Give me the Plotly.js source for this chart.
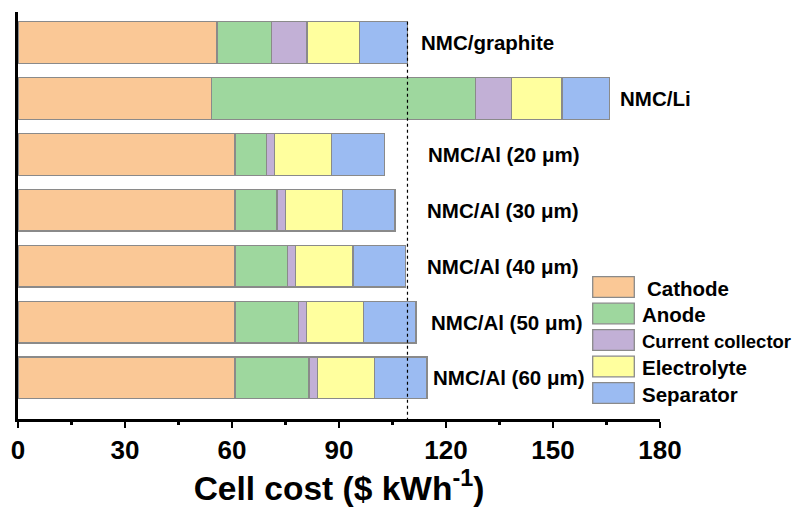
<!DOCTYPE html>
<html>
<head>
<meta charset="utf-8">
<script src="https://cdn.plot.ly/plotly-3.0.1.min.js"></script>
<style>
  html, body { margin: 0; padding: 0; background: #fff; }
  #chart { width: 797px; height: 513px; }
</style>
</head>
<body>
<div id="chart"></div>
<script>
// Cell configurations (top to bottom)
const categories = [
  'NMC/graphite',
  'NMC/Li',
  'NMC/Al (20 μm)',
  'NMC/Al (30 μm)',
  'NMC/Al (40 μm)',
  'NMC/Al (50 μm)',
  'NMC/Al (60 μm)'
];

// Cost breakdown per component, $ kWh-1
const cathode          = [55.8, 54.3, 60.8, 60.8, 60.8, 60.8, 60.8];
const anode            = [15.2, 74.0,  8.9, 11.8, 14.8, 17.8, 20.8];
const currentCollector = [10.0, 10.0,  2.3,  2.4,  2.3,  2.3,  2.3];
const electrolyte      = [14.8, 14.2, 15.9, 15.9, 16.0, 15.9, 16.0];
const separator        = [13.4, 13.3, 14.8, 14.8, 14.8, 14.8, 14.8];

const componentNames = ['Cathode', 'Anode', 'Current collector', 'Electrolyte', 'Separator'];
const componentColors = ['#FAC896', '#9ED79E', '#C2B0D6', '#FFFF9E', '#9BBBF2'];

const xTickVals = [0, 30, 60, 90, 120, 150, 180];

// Pixel geometry of the plotting area
const W = 797, H = 513;
const M = { l: 18, r: 137, t: 12, b: 94 };
const plotW = W - M.l - M.r, plotH = H - M.t - M.b;
const px2x = px => (px - M.l) / plotW;           // paper x
const py2y = py => 1 - (py - M.t) / plotH;       // paper y

const series = [cathode, anode, currentCollector, electrolyte, separator];
const barWidth = 0.745;

const traces = series.map((vals, i) => ({
  type: 'bar',
  orientation: 'h',
  name: componentNames[i],
  y: categories,
  x: vals,
  width: barWidth,
  marker: { color: componentColors[i], line: { color: '#8a8a8a', width: 1.3 } },
  hoverinfo: 'x+name',
  showlegend: false
}));

// Total of the reference (graphite) cell, marked with a dotted line
const graphiteTotal = series.reduce((s, arr) => s + arr[0], 0);

// Label positions to the right of each bar (data x)
const labelX = [112.3, 168.3, 114.5, 114.0, 114.0, 115.1, 115.9];

const annotations = categories.map((c, i) => ({
  xref: 'x', yref: 'y', x: labelX[i], y: c,
  text: '<b>' + c + '</b>',
  showarrow: false, xanchor: 'left', yanchor: 'middle',
  font: { family: 'Liberation Sans, Arial, sans-serif', size: 20.5, color: '#000' }
}));

// Hand-built legend with large swatches
const shapes = [];
const legendTop = 276.7, legendStep = 26.5, swH = 20.6;
const legendTextX = [645, 640, 640, 640, 640];
const legendFont = [20.5, 20.5, 18.5, 20.5, 20.5];
componentNames.forEach((n, i) => {
  const top = legendTop + i * legendStep;
  shapes.push({
    type: 'rect', xref: 'paper', yref: 'paper', layer: 'above',
    x0: px2x(592.7), x1: px2x(634.3), y0: py2y(top + swH), y1: py2y(top),
    fillcolor: componentColors[i], line: { color: '#8a8a8a', width: 1.3 }
  });
  annotations.push({
    xref: 'paper', yref: 'paper', x: px2x(legendTextX[i]), y: py2y(top + swH / 2 + 1),
    text: '<b>' + n + '</b>', showarrow: false, xanchor: 'left', yanchor: 'middle',
    font: { family: 'Liberation Sans, Arial, sans-serif', size: legendFont[i], color: '#000' }
  });
});

shapes.push({
  type: 'line', xref: 'x', yref: 'y', layer: 'above',
  x0: graphiteTotal, x1: graphiteTotal, y0: -barWidth / 2, y1: 6.734,
  line: { color: '#000', width: 1.2, dash: 'dot' }
});

const layout = {
  width: W, height: H,
  margin: M,
  paper_bgcolor: '#fff', plot_bgcolor: '#fff',
  barmode: 'stack',
  bargap: 0.25,
  showlegend: false,
  font: { family: 'Liberation Sans, Arial, sans-serif', color: '#000' },
  xaxis: {
    range: [0, 180],
    tickvals: xTickVals,
    ticktext: xTickVals.map(String),
    ticks: 'outside', ticklen: 6, tickwidth: 2.2, tickcolor: '#000',
    minor: { dtick: 15, ticks: 'outside', ticklen: 3.5, tickwidth: 2.2, tickcolor: '#000' },
    showline: true, linecolor: '#000', linewidth: 2.5,
    showgrid: false, zeroline: false,
    tickfont: { family: 'Liberation Sans, Arial, sans-serif', size: 26, weight: 'bold', color: '#000' },
    title: {
      text: '<b>Cell cost ($ kWh<sup>-1</sup>)</b>',
      font: { family: 'Liberation Sans, Arial, sans-serif', size: 33.5, color: '#000' },
      standoff: 13
    },
    automargin: false,
    fixedrange: true
  },
  yaxis: {
    type: 'category',
    range: [6.734, -0.546],
    showticklabels: false,
    ticks: '',
    showline: true, linecolor: '#000', linewidth: 3.4,
    showgrid: false, zeroline: false,
    automargin: false,
    fixedrange: true
  },
  annotations: annotations,
  shapes: shapes
};

Plotly.newPlot('chart', traces, layout, { displayModeBar: false, staticPlot: true });
</script>
</body>
</html>
